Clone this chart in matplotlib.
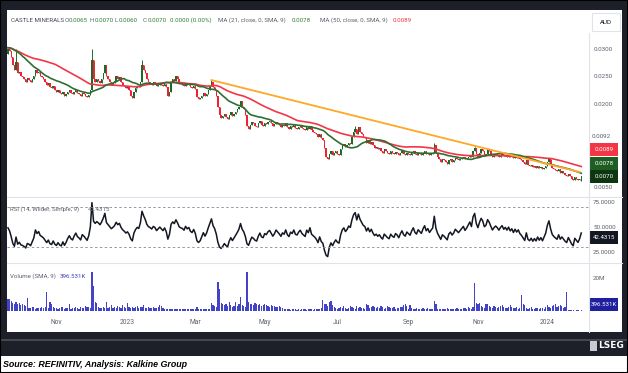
import numpy as np
import pandas as pd
import matplotlib
matplotlib.use("Agg")
import matplotlib.pyplot as plt
from matplotlib.patches import Rectangle
from matplotlib.lines import Line2D
from matplotlib import font_manager

# ---- data -------------------------------------------------------------
start_date = "2022-09-20"
first_open_e4 = 290
# closes before the visible window (only used to warm up MA / RSI)
warmup_e4 = [300, 305, 295, 310, 300, 295, 305, 300, 310, 295,
             300, 305, 300, 295, 305, 310, 300, 295, 300, 305]
# daily closes in units of 0.0001 AUD
close_e4 = [
    300, 295, 285, 270, 262, 275, 255, 258, 250, 248,
    245, 240, 246, 244, 240, 245, 250, 262, 255, 258,
    250, 248, 245, 240, 235, 238, 230, 228, 232, 225,
    222, 225, 220, 218, 222, 215, 218, 222, 225, 220,
    218, 222, 225, 220, 218, 215, 220, 218, 215, 212,
    216, 225, 280, 245, 240, 245, 242, 238, 245, 255,
    270, 250, 245, 240, 235, 238, 242, 250, 245, 248,
    240, 235, 232, 228, 230, 225, 215, 210, 222, 228,
    232, 230, 240, 270, 262, 255, 245, 240, 238, 235,
    240, 238, 232, 235, 238, 235, 232, 236, 230, 215,
    222, 240, 245, 242, 250, 245, 238, 236, 235, 232,
    238, 234, 236, 230, 228, 232, 226, 212, 208, 210,
    215, 220, 214, 218, 225, 232, 240, 230, 225, 215,
    195, 180, 175, 178, 182, 176, 172, 180, 185, 178,
    182, 186, 190, 195, 205, 195, 190, 180, 160, 155,
    162, 168, 165, 160, 158, 165, 170, 162, 160, 166,
    164, 168, 170, 165, 160, 163, 168, 165, 162, 158,
    162, 160, 165, 158, 155, 160, 158, 162, 156, 155,
    158, 160, 156, 154, 152, 158, 155, 160, 152, 150,
    148, 145, 140, 145, 138, 135, 120, 105, 100, 110,
    115, 108, 112, 115, 110, 108, 118, 125, 128, 122,
    125, 130, 128, 140, 150, 155, 145, 158, 150, 145,
    140, 138, 130, 135, 128, 132, 125, 120, 122, 118,
    120, 115, 112, 118, 115, 112, 110, 115, 112, 110,
    114, 112, 108, 112, 115, 110, 108, 112, 110, 108,
    112, 115, 110, 108, 112, 110, 108, 112, 115, 110,
    112, 108, 110, 112, 125, 112, 105, 100, 95, 100,
    98, 95, 92, 98, 100, 96, 98, 102, 100, 98,
    100, 102, 104, 100, 102, 105, 108, 104, 115, 120,
    110, 105, 112, 118, 115, 108, 110, 118, 115, 110,
    105, 108, 110, 108, 105, 108, 110, 106, 108, 105,
    108, 104, 106, 102, 105, 102, 104, 100, 98, 95,
    92, 98, 90, 88, 90, 86, 88, 85, 88, 84,
    86, 82, 85, 88, 95, 100, 92, 85, 82, 80,
    78, 82, 76, 78, 75, 72, 70, 74, 70, 65,
    62, 68, 65, 62, 65, 70,
]
# intraday extremes that stick out of the bodies (index: price e-4)
wick_highs = {5: 300, 52: 300, 83: 280, 126: 243, 215: 160, 264: 130, 289: 122, 335: 102}
wick_lows = {355: 60}
# daily volume in units of 100K shares
volume_e5 = [
    70, 75, 60, 50, 45, 55, 40, 48, 35, 42,
    38, 30, 80, 20, 18, 22, 25, 15, 20, 18,
    20, 25, 18, 22, 115, 20, 55, 40, 22, 18,
    20, 15, 18, 22, 25, 15, 18, 20, 40, 15,
    18, 20, 25, 18, 15, 22, 20, 18, 30, 22,
    25, 20, 235, 150, 55, 50, 25, 20, 18, 22,
    20, 55, 18, 22, 35, 20, 25, 18, 30, 22,
    20, 35, 25, 18, 50, 22, 20, 25, 18, 22,
    30, 20, 25, 22, 35, 18, 20, 25, 18, 20,
    22, 18, 20, 25, 35, 30, 20, 15, 12, 15,
    10, 12, 15, 10, 12, 15, 10, 12, 15, 10,
    12, 10, 15, 12, 10, 15, 12, 25, 12, 10,
    15, 12, 10, 12, 15, 12, 50, 35, 30, 22,
    178, 135, 50, 40, 35, 40, 30, 55, 35, 25,
    30, 55, 30, 40, 85, 35, 30, 25, 235, 55,
    40, 45, 35, 50, 40, 35, 45, 30, 38, 40,
    35, 30, 25, 35, 28, 30, 25, 22, 30, 25,
    20, 15, 10, 12, 10, 8, 10, 12, 10, 8,
    10, 8, 10, 12, 10, 8, 10, 12, 10, 8,
    10, 12, 10, 15, 20, 65, 45, 40, 30, 55,
    60, 35, 25, 20, 15, 20, 25, 18, 30, 20,
    15, 20, 30, 25, 20, 15, 30, 20, 25, 18,
    20, 15, 40, 35, 20, 25, 30, 22, 18, 25,
    20, 30, 25, 15, 20, 28, 25, 20, 18, 22,
    15, 20, 18, 25, 22, 35, 40, 30, 15, 35,
    20, 15, 12, 18, 15, 12, 15, 20, 12, 15,
    18, 15, 12, 15, 60, 40, 15, 12, 10, 15,
    12, 15, 18, 12, 15, 10, 12, 15, 18, 12,
    15, 12, 18, 20, 15, 22, 18, 15, 25, 170,
    50, 45, 50, 30, 25, 20, 45, 40, 30, 25,
    20, 30, 25, 20, 22, 30, 35, 25, 20, 18,
    22, 35, 25, 20, 18, 22, 15, 20, 100, 40,
    35, 20, 15, 18, 25, 15, 12, 20, 18, 15,
    20, 18, 15, 22, 35, 25, 20, 30, 35, 40,
    25, 30, 35, 30, 20, 25, 115, 5, 4, 5,
    4, 3, 5, 4, 3, 4,
]
trend_dates = ["2023-03-15", "2024-01-29"]
trend_prices = [0.0243, 0.0077]

price_ticks = [0.0050, 0.0200, 0.0250, 0.0300]
rsi_ticks = [25, 50, 75]
rsi_levels = [70, 30]
month_labels = {11: "Nov", 3: "Mar", 5: "May", 7: "Jul", 9: "Sep"}

# ---- derived series ---------------------------------------------------
n = len(close_e4)
dates = pd.bdate_range(start_date, periods=n)
x = np.arange(n)
close = np.array(close_e4) * 1e-4
open_ = np.r_[first_open_e4 * 1e-4, close[:-1]]
high = np.maximum(open_, close)
low = np.minimum(open_, close)
for i, v in wick_highs.items():
    high[i] = v * 1e-4
for i, v in wick_lows.items():
    low[i] = v * 1e-4
vol = np.array(volume_e5) * 1e5

full = pd.Series(np.r_[np.array(warmup_e4) * 1e-4, close])
ma21 = full.rolling(21, min_periods=1).mean().values[-n:]
ma50 = full.rolling(50, min_periods=1).mean().values[-n:]
d = full.diff().fillna(0)
gain = d.clip(lower=0).ewm(alpha=1 / 14, adjust=False).mean()
loss = (-d.clip(upper=0)).ewm(alpha=1 / 14, adjust=False).mean()
rsi = (100 - 100 / (1 + gain / loss.replace(0, np.nan))).fillna(50).values[-n:]

# ---- figure -----------------------------------------------------------
names = {f.name for f in font_manager.fontManager.ttflist}
narrow = "Liberation Sans Narrow" if "Liberation Sans Narrow" in names else "Roboto"
plt.rcParams["font.family"] = [narrow, "DejaVu Sans"]

W, H = 628, 373
fig = plt.figure(figsize=(W / 100, H / 100), dpi=100, facecolor="#1e2029")
renderer = fig.canvas.get_renderer()


def box(x0, y0, x1, y1):
    return [x0 / W, 1 - y1 / H, (x1 - x0) / W, (y1 - y0) / H]


def fx(v):
    return v / W


def fy(v):
    return 1 - v / H


def frect(x0, y0, x1, y1, **kw):
    fig.patches.append(Rectangle((fx(x0), fy(y1)), (x1 - x0) / W, (y1 - y0) / H,
                                 transform=fig.transFigure, **kw))


def fline(x0, y0, x1, y1, **kw):
    fig.lines.append(Line2D([fx(x0), fx(x1)], [fy(y0), fy(y1)], transform=fig.transFigure, **kw))


def text_row(pieces, y, fs, gap=1.2):
    # place pieces at their reference x, pushed right if the previous one runs into it
    end = -1e9
    for s, px, c in pieces:
        xx = max(px, end + gap)
        t = fig.text(fx(xx), fy(y), s, color=c, fontsize=fs, va="center")
        end = t.get_window_extent(renderer).x1


frect(7, 10, 622, 332, fc="white", ec="none", zorder=-2)
frect(1, 356, 627, 372, fc="white", ec="none", zorder=-2)
fline(0, 339.5, 628, 339.5, color="#4b4f5a", lw=1.2, zorder=-1)
fline(7, 197, 622, 197, color="#e0e3eb", lw=0.8)
fline(7, 263, 622, 263, color="#e0e3eb", lw=0.8)
fline(589, 33, 589, 332, color="#e0e3eb", lw=0.8)

ax_p = fig.add_axes(box(7, 10, 589, 197))
ax_r = fig.add_axes(box(7, 197, 589, 263))
ax_v = fig.add_axes(box(7, 263, 589, 315))

gray = "#5d606b"
green = "#2e7d32"
red = "#f23645"
xlim = (-0.6, 359.8)
for ax in (ax_p, ax_r, ax_v):
    ax.set_facecolor("none")
    ax.set_xlim(*xlim)
    for s in ax.spines.values():
        s.set_visible(False)
    ax.yaxis.tick_right()
    ax.tick_params(axis="y", length=0, pad=3, labelsize=4.5, labelcolor=gray)
    ax.tick_params(axis="x", length=0)
    ax.set_xticks([])

# price panel
up = close >= open_
colors = np.where(up, "#1b6b28", "#ee2233")
ax_p.vlines(x, low, high, colors=colors, lw=0.7)
body = np.maximum(np.abs(close - open_), 0.0002)
ax_p.bar(x, body, bottom=np.minimum(open_, close) - (body - np.abs(close - open_)) / 2,
         width=0.85, color=colors, lw=0)
ax_p.plot(x, ma50, color=red, lw=1.2)
ax_p.plot(x, ma21, color="#2f6f33", lw=1.2)
tx = [dates.get_loc(pd.Timestamp(t)) for t in trend_dates]
ax_p.plot(tx, trend_prices, color="#ffa726", lw=1.3)
ax_p.set_ylim(31.95e-4, 369.5e-4)
ax_p.set_yticks(price_ticks, [f"{t:.4f}" for t in price_ticks])

# rsi panel
ax_r.plot(x, rsi, color="#131722", lw=1.1)
for lv in rsi_levels:
    ax_r.axhline(lv, color="#9598a1", lw=0.7, ls=(0, (2.5, 2.5)))
ax_r.set_ylim(13.3, 80.6)
ax_r.set_yticks(rsi_ticks, [f"{t:.4f}" for t in rsi_ticks])

# volume panel
ax_v.bar(x, vol, width=0.75, color="#4343c8", lw=0)
ax_v.set_ylim(-2.4e6, 29.1e6)
ax_v.set_yticks([20e6], ["20M"])
pos, labs = [], []
for i in range(1, n):
    if dates[i].month != dates[i - 1].month:
        m = dates[i].month
        if m == 1:
            pos.append(i)
            labs.append(str(dates[i].year))
        elif m in month_labels:
            pos.append(i)
            labs.append(month_labels[m])
ax_v.set_xticks(pos, labs)
ax_v.tick_params(axis="x", pad=3, labelsize=4.8, labelcolor=gray)

# header texts
fs = 4.4
text_row([("CASTLE MINERALS", 11, "#434651"), ("O", 63, gray), ("0.0065", 66.5, green),
          ("H", 90, gray), ("0.0070", 93.5, green), ("L", 115, gray), ("0.0060", 118, green),
          ("C", 143, gray), ("0.0070", 146.5, green), ("0.0000 (0.00%)", 170, green),
          ("MA (21, close, 0, SMA, 9)", 218, gray), ("0.0078", 292, green),
          ("MA (50, close, 0, SMA, 9)", 320, gray), ("0.0089", 393, red)], 20, fs, gap=0.3)
text_row([("RSI (14, Wilder, Simple, 9)", 10, gray), ("42.4315", 88, gray)], 209, fs, gap=3)
text_row([("Volume (SMA, 9)", 10, gray), ("396.531K", 60, "#3f3fc0")], 276, fs, gap=3)

# right-side value boxes
frect(592, 13, 620, 31, fc="white", ec="#e0e3eb", lw=0.8)
fig.text(fx(606), fy(22), "AUD", color="#131722", fontsize=4.5, va="center", ha="center")
fig.text(fx(592), fy(137), "0.0092", color=gray, fontsize=4.5, va="center")
tags = [("0.0089", 149.5, red), ("0.0078", 163, "#1e5e22"), ("0.0070", 176.5, "#0d3510"),
        ("42.4315", 237.5, "#131722"), ("396.531K", 304, "#1f1fa0")]
for s, py, bg in tags:
    frect(589.5, py - 6.5, 618, py + 6.5, fc=bg, ec="none")
    fig.text(fx(603.7), fy(py), s, color="white", fontsize=4.4, va="center", ha="center")

# footer
fig.text(fx(598), fy(346), "LSEG", color="white", fontsize=6.5, weight="bold", va="center",
         family="DejaVu Sans")
frect(590, 341, 597, 351, fc="#c9cbd1", ec="none")
fig.text(fx(3), fy(364.5), "Source: REFINITIV, Analysis: Kalkine Group", color="black",
         fontsize=6.4, weight="bold", style="italic", va="center", family="Liberation Sans")
fig.patches.append(Rectangle((0, 0), 1, 1, transform=fig.transFigure, fill=False,
                             ec="black", lw=1.5))

fig.savefig("out.png", dpi=100, facecolor=fig.get_facecolor())
